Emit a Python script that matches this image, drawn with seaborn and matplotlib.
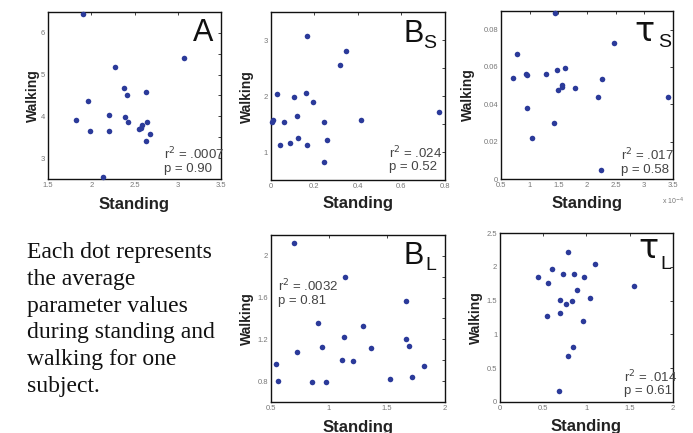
import matplotlib
matplotlib.use("Agg")
import matplotlib.pyplot as plt
from matplotlib.ticker import MultipleLocator, FormatStrFormatter
import seaborn as sns
import pandas as pd

# ---- data (one dot per subject) ----
a_standing = [1.91, 3.07, 2.27, 2.38, 2.41, 2.63, 1.96, 1.82, 2.20, 2.39,
              2.43, 1.99, 2.21, 2.65, 2.58, 2.55, 2.59, 2.68, 2.63, 2.13]
a_walking = [6.45, 5.40, 5.18, 4.69, 4.50, 4.58, 4.36, 3.91, 4.04, 3.99,
             3.86, 3.65, 3.65, 3.87, 3.73, 3.69, 3.80, 3.58, 3.40, 2.54]

bs_standing = [0.167, 0.345, 0.316, 0.026, 0.161, 0.106, 0.193, 0.008, 0.005, 0.060,
               0.120, 0.245, 0.414, 0.774, 0.126, 0.259, 0.040, 0.086, 0.164, 0.245]
bs_walking = [3.08, 2.80, 2.55, 2.04, 2.05, 1.99, 1.89, 1.58, 1.54, 1.54,
              1.65, 1.53, 1.57, 1.71, 1.26, 1.22, 1.12, 1.16, 1.12, 0.83]

# standing in units of 1e-4
ts_standing = [1.44, 2.47, 0.77, 0.71, 0.93, 0.95, 1.29, 1.47, 1.61, 2.27,
               1.57, 1.57, 1.50, 1.79, 2.20, 3.41, 0.96, 1.43, 1.04, 2.24]
ts_walking = [0.0889, 0.0731, 0.0668, 0.0542, 0.0562, 0.0555, 0.0563, 0.0583, 0.0597, 0.0535,
              0.0504, 0.0492, 0.0476, 0.0486, 0.0438, 0.0438, 0.0380, 0.0298, 0.0221, 0.0046]

bl_standing = [0.70, 1.135, 1.664, 0.908, 1.29, 1.13, 0.937, 1.36, 1.664, 1.69,
               0.727, 0.54, 1.115, 1.207, 1.82, 0.56, 0.856, 0.974, 1.526, 1.72]
bl_walking = [2.127, 1.796, 1.57, 1.36, 1.328, 1.226, 1.127, 1.115, 1.207, 1.14,
              1.076, 0.962, 1.003, 0.997, 0.943, 0.80, 0.787, 0.787, 0.82, 0.838]

tl_standing = [0.788, 1.104, 0.604, 0.438, 0.731, 0.854, 0.977, 0.55, 1.546, 0.896,
               1.035, 0.696, 0.838, 0.765, 0.696, 0.538, 0.96, 0.842, 0.788, 0.681]
tl_walking = [2.214, 2.046, 1.967, 1.854, 1.894, 1.894, 1.854, 1.76, 1.711, 1.657,
              1.538, 1.504, 1.494, 1.445, 1.32, 1.267, 1.198, 0.819, 0.685, 0.163]

stats = {
    "A": ("r$^2$ = .0007", "p = 0.90"),
    "Bs": ("r$^2$ = .024", "p = 0.52"),
    "ts": ("r$^2$ = .017", "p = 0.58"),
    "Bl": ("r$^2$ = .0032", "p = 0.81"),
    "tl": ("r$^2$ = .014", "p = 0.61"),
}

caption = ("Each dot represents\nthe average\nparameter values\n"
           "during standing and\nwalking for one\nsubject.")

DOT = "#2b3a9a"
sns.set_style("white")
plt.rcParams["font.family"] = ["Liberation Sans", "DejaVu Sans"]

fig = plt.figure(figsize=(6.93, 4.33), dpi=100)

# name, rect, x, y, xlim, ylim, xmajor, ymajor, yminor, letter, sub, letter pos, sub pos,
# stats pos, ylabel x, xlabel y
panels = [
    ("A", [0.0693, 0.5866, 0.2496, 0.3857], a_standing, a_walking,
     (1.5, 3.5), (2.5, 6.5), 0.5, 1.0, 0.5, "A", "", (0.954, 0.826), None,
     (0.67, 0.15, 0.06), -0.045, -0.105),
    ("Bs", [0.391, 0.584, 0.251, 0.388], bs_standing, bs_walking,
     (0, 0.8), (0.5, 3.5), 0.2, 1.0, 0.5, "B", "S", (0.76, 0.82), (0.875, 0.786),
     (0.68, 0.16, 0.077), -0.10, -0.095),
    ("ts", [0.723, 0.5866, 0.248, 0.388], ts_standing, ts_walking,
     (0.5, 3.5), (0, 0.09), 0.5, 0.02, None, "\u03c4", "S", (0.775, 0.82), (0.913, 0.786),
     (0.70, 0.143, 0.054), -0.15, -0.10),
    ("Bl", [0.391, 0.0716, 0.251, 0.3857], bl_standing, bl_walking,
     (0.5, 2.0), (0.6, 2.2), 0.5, 0.4, 0.2, "B", "L", (0.764, 0.826), (0.89, 0.79),
     (0.04, 0.695, 0.605), -0.10, -0.108),
    ("tl", [0.7215, 0.0716, 0.2496, 0.390], tl_standing, tl_walking,
     (0, 2.0), (0, 2.5), 0.5, 0.5, None, "\u03c4", "L", (0.80, 0.855), (0.925, 0.79),
     (0.717, 0.148, 0.065), -0.098, -0.10),
]

for (key, rect, xs, ys, xlim, ylim, xmaj, ymaj, ymin, letter, sub, lpos, spos,
     tpos, ylx, xly) in panels:
    ax = fig.add_axes(rect)
    df = pd.DataFrame({"Standing": xs, "Walking": ys})
    sns.scatterplot(data=df, x="Standing", y="Walking", ax=ax, color=DOT,
                    s=16, linewidth=0, clip_on=False, zorder=3)
    ax.set_xlim(*xlim)
    ax.set_ylim(*ylim)
    ax.xaxis.set_major_locator(MultipleLocator(xmaj))
    ax.yaxis.set_major_locator(MultipleLocator(ymaj))
    ax.xaxis.set_major_formatter(FormatStrFormatter("%g"))
    ax.yaxis.set_major_formatter(FormatStrFormatter("%g"))
    if ymin:
        ax.yaxis.set_minor_locator(MultipleLocator(ymin))
    ax.tick_params(which="both", direction="in", top=True, right=True,
                   labelsize=5.5, labelcolor="#777777", length=2.5, width=0.6,
                   pad=2, color="#222222")
    ax.tick_params(which="minor", length=2.0)
    for sp in ax.spines.values():
        sp.set_color("#111111")
        sp.set_linewidth(1.0)
    ax.set_xlabel("Standing", fontsize=12, fontweight="bold", color="#222222")
    ax.set_ylabel("Walking", fontsize=10, fontweight="bold", color="#222222")
    ax.xaxis.set_label_coords(0.5, xly)
    ax.yaxis.set_label_coords(ylx, 0.5)

    if letter == "\u03c4":
        ax.text(lpos[0], lpos[1], letter, transform=ax.transAxes, fontsize=24,
                family="DejaVu Sans", ha="left", va="baseline", color="#111111")
    else:
        ax.text(lpos[0], lpos[1], letter, transform=ax.transAxes, fontsize=22,
                ha="right" if not sub else "left", va="baseline", color="#111111")
    if sub:
        ax.text(spos[0], spos[1], sub, transform=ax.transAxes, fontsize=14,
                ha="left", va="baseline", color="#111111")

    r2, p = stats[key]
    ax.text(tpos[0], tpos[1], r2, transform=ax.transAxes, fontsize=9.5,
            ha="left", va="center", color="#444444")
    ax.text(tpos[0], tpos[2], p, transform=ax.transAxes, fontsize=9.5,
            ha="left", va="center", color="#444444")

    if key == "ts":
        ax.text(1.0, -0.135, "x 10$^{-4}$", transform=ax.transAxes, fontsize=5,
                ha="center", va="center", color="#777777")

fig.text(0.039, 1 - 242 / 433, caption, ha="left", va="top", fontsize=17,
         family="Liberation Serif", linespacing=1.36, color="#111111")

fig.savefig("out.png", dpi=100)
